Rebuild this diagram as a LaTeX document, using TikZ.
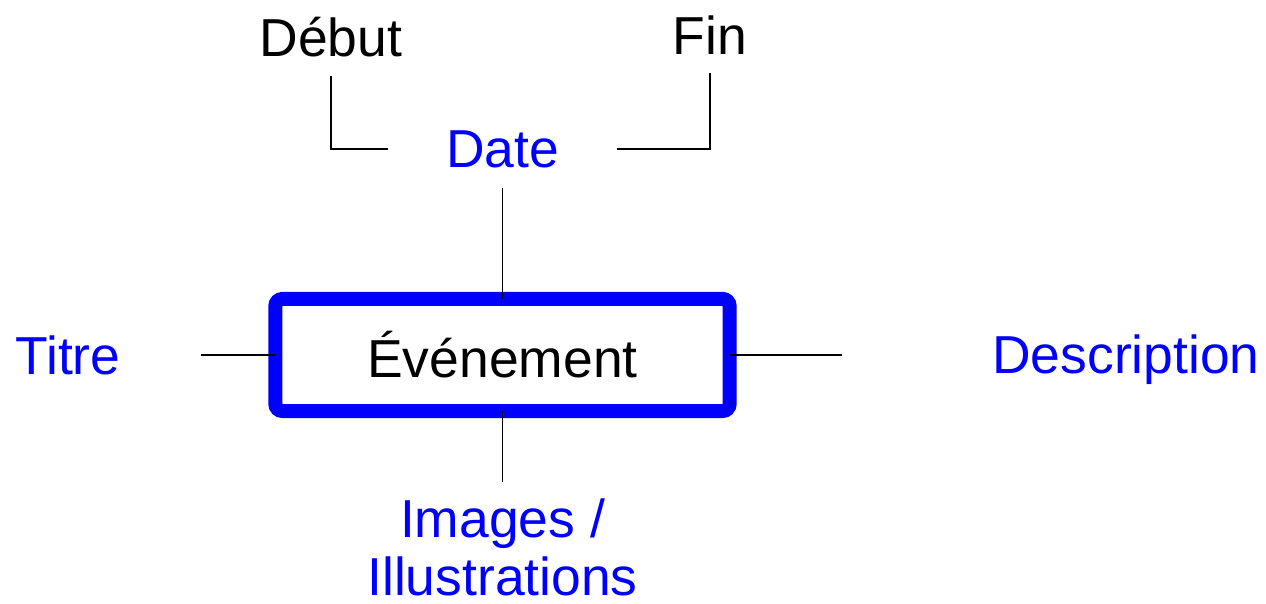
\documentclass[tikz,border=0pt]{standalone}
\usepackage{fontspec}
\setmainfont{Liberation Sans}
\tikzset{
	txt/.style={font=\fontsize{15.2pt}{16.6pt}\selectfont, inner sep=0pt},
	bluetxt/.style={txt, text=blue},
	conn/.style={draw=black, line width=0.4pt}
}
\begin{document}
\begin{tikzpicture}[x=0.01cm, y=-0.01cm]
	\useasboundingbox (0,0) rectangle (1266,604);
	% boite centrale
	\node[txt, draw=blue, line width=0.14cm, rounded corners=2pt, outer sep=0pt,
		minimum width=4.54cm, minimum height=1.12cm] (evenement) at (502.5,355) {Événement};
	% attributs
	\node[bluetxt, minimum width=2.27cm, minimum height=0.76cm] (date) at (502.5,149) {Date};
	\node[txt, minimum height=0.76cm] (debut) at (331,37) {Début};
	\node[txt, minimum height=0.74cm] (fin) at (710,35) {Fin};
	\node[bluetxt, inner xsep=0.8cm] (titre) at (68,355) {Titre};
	\node[bluetxt, inner xsep=1.5cm] (description) at (1126,360) {Description};
	\node[bluetxt, align=center, anchor=north, inner ysep=0.16cm] (images) at (502.5,482) {Images /\\Illustrations};
	% liens
	\draw[conn] (debut.south) |- (date.west);
	\draw[conn] (fin.south) |- (date.east);
	\draw[conn] (date) -- (evenement);
	\draw[conn] (titre) -- (evenement);
	\draw[conn] (evenement.east) -- (evenement.east -| description.west);
	\draw[conn] (evenement) -- (images);
\end{tikzpicture}
\end{document}
